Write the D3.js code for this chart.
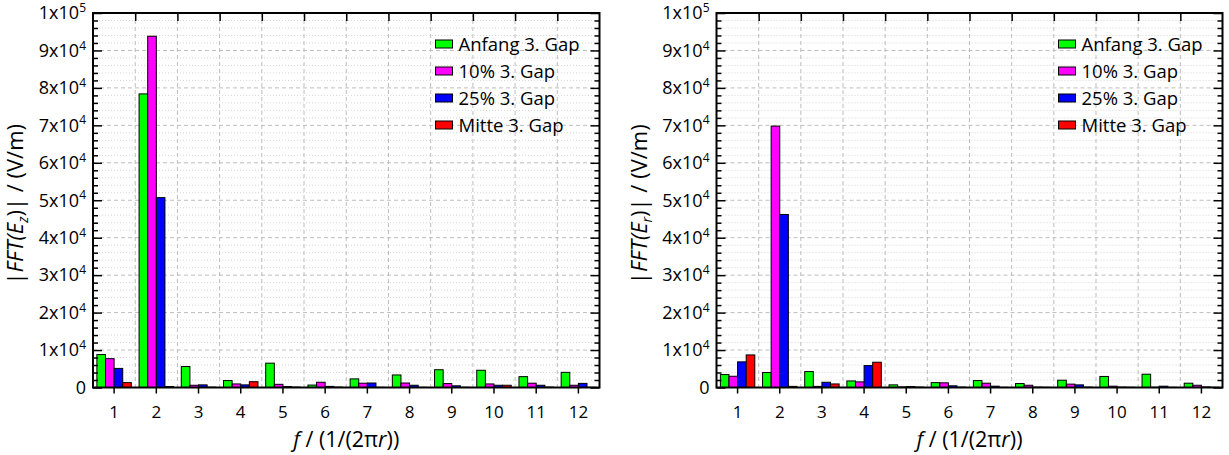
<!DOCTYPE html>
<html>
<head>
<meta charset="utf-8">
<script src="https://cdn.jsdelivr.net/npm/d3@7"></script>
<style>
  body { margin: 0; background: #fff; }
  svg { font-family: "Open Sans", sans-serif; }
</style>
</head>
<body>
<svg width="1229" height="455"></svg>
<script>
// data
var categories = [1, 2, 3, 4, 5, 6, 7, 8, 9, 10, 11, 12];
var seriesNames = ["Anfang 3. Gap", "10% 3. Gap", "25% 3. Gap", "Mitte 3. Gap"];
var colors = ["#00ff00", "#ff00ff", "#0000ff", "#ff0000"];

// |FFT(Ez)|
var ezAnfang = [8800, 78400, 5600, 1850, 6500, 650, 2300, 3350, 4750, 4600, 2900, 4050];
var ez10 = [7700, 93800, 600, 950, 850, 1400, 1150, 1200, 1050, 950, 1150, 600];
var ez25 = [5100, 50700, 700, 700, 250, 300, 1200, 600, 450, 600, 600, 1100];
var ezMitte = [1300, 250, 80, 1550, 100, 100, 50, 50, 50, 600, 100, 50];

// |FFT(Er)|
var erAnfang = [3450, 4000, 4250, 1750, 700, 1300, 1850, 1050, 1950, 2950, 3550, 1150];
var er10 = [3000, 69800, 300, 1500, 150, 1250, 1150, 600, 900, 350, 50, 600];
var er25 = [6850, 46200, 1400, 5850, 250, 450, 350, 100, 700, 100, 350, 150];
var erMitte = [8700, 300, 950, 6750, 100, 100, 50, 50, 100, 50, 50, 50];

var yMajor = [0, 1e4, 2e4, 3e4, 4e4, 5e4, 6e4, 7e4, 8e4, 9e4, 1e5];

var svg = d3.select("svg");
var top_ = 13, bottom = 387.5;

var y = d3.scaleLinear().domain([0, 1e5]).range([bottom, top_]);
var yMinor = d3.range(0, 100001, 2000).filter(function(v) { return v % 10000 !== 0; });

function drawPanel(x0, x1, sets, sub) {
  var g = svg.append("g");
  var x = d3.scaleBand().domain(categories).range([x0, x1]).padding(0);
  var xs = d3.scaleBand().domain(seriesNames).range([0, x.bandwidth()]).paddingOuter(0.45).paddingInner(0);
  var xb = d3.scaleLinear().domain([0, 12]).range([x0, x1]);

  // grid
  g.append("g").selectAll("line").data(yMinor).join("line")
    .attr("x1", x0).attr("x2", x1)
    .attr("y1", function(d) { return y(d); }).attr("y2", function(d) { return y(d); })
    .attr("stroke", "#d6d6d6").attr("stroke-dasharray", "1,2");
  g.append("g").selectAll("line").data(yMajor.slice(1, -1)).join("line")
    .attr("x1", x0).attr("x2", x1)
    .attr("y1", function(d) { return y(d); }).attr("y2", function(d) { return y(d); })
    .attr("stroke", "#bdbdbd").attr("stroke-dasharray", "4,3");
  g.append("g").selectAll("line").data(d3.range(1, 12)).join("line")
    .attr("x1", function(d) { return xb(d); }).attr("x2", function(d) { return xb(d); })
    .attr("y1", top_).attr("y2", bottom)
    .attr("stroke", "#bdbdbd").attr("stroke-dasharray", "4,3");

  // bars
  var rows = [];
  categories.forEach(function(c, i) {
    seriesNames.forEach(function(s, j) {
      rows.push({ c: c, s: s, j: j, v: sets[j][i] });
    });
  });
  g.append("g").selectAll("rect").data(rows).join("rect")
    .attr("x", function(d) { return x(d.c) + xs(d.s); })
    .attr("y", function(d) { return y(d.v); })
    .attr("width", xs.bandwidth())
    .attr("height", function(d) { return bottom - y(d.v); })
    .attr("fill", function(d) { return colors[d.j]; })
    .attr("stroke", "#000").attr("stroke-width", 1);

  // left axis, ticks pointing in
  var yl = g.append("g").attr("transform", "translate(" + x0 + ",0)")
    .call(d3.axisLeft(y).tickValues(yMajor).tickSizeInner(-9).tickSizeOuter(0).tickPadding(7).tickFormat(""));
  yl.select(".domain").remove();
  yl.selectAll(".tick line").attr("stroke-width", 1.5);
  yl.selectAll(".tick text").each(function(d) {
    var t = d3.select(this).attr("font-size", 18).attr("font-family", "Open Sans").attr("fill", "#000");
    if (d === 0) { t.text("0"); return; }
    var e = Math.floor(Math.log10(d) + 1e-9);
    t.text(Math.round(d / Math.pow(10, e)) + "x10");
    t.append("tspan").attr("font-size", 12).attr("dy", "-0.6em").text(e);
  });
  var ylm = g.append("g").attr("transform", "translate(" + x0 + ",0)")
    .call(d3.axisLeft(y).tickValues(yMinor).tickSizeInner(-5).tickSizeOuter(0).tickFormat(""));
  ylm.select(".domain").remove();
  ylm.selectAll(".tick line").attr("stroke-width", 1.5);

  // right axis
  var yr = g.append("g").attr("transform", "translate(" + x1 + ",0)")
    .call(d3.axisRight(y).tickValues(yMajor).tickSizeInner(-9).tickSizeOuter(0).tickFormat(""));
  yr.select(".domain").remove();
  yr.selectAll(".tick line").attr("stroke-width", 1.5);
  var yrm = g.append("g").attr("transform", "translate(" + x1 + ",0)")
    .call(d3.axisRight(y).tickValues(yMinor).tickSizeInner(-5).tickSizeOuter(0).tickFormat(""));
  yrm.select(".domain").remove();
  yrm.selectAll(".tick line").attr("stroke-width", 1.5);

  // bottom axis
  var xa = g.append("g").attr("transform", "translate(0," + bottom + ")")
    .call(d3.axisBottom(x).tickSizeInner(6).tickSizeOuter(0).tickPadding(12.4));
  xa.select(".domain").remove();
  xa.selectAll(".tick line").attr("stroke-width", 1.5);
  xa.selectAll(".tick text").attr("font-size", 17).attr("font-family", "Open Sans").attr("fill", "#000");

  // top axis ticks at category boundaries
  var xt = g.append("g").attr("transform", "translate(0," + top_ + ")")
    .call(d3.axisTop(xb).tickValues(d3.range(1, 12)).tickSizeInner(-8).tickSizeOuter(0).tickFormat(""));
  xt.select(".domain").remove();
  xt.selectAll(".tick line").attr("stroke-width", 1.5);

  // frame
  g.append("rect").attr("x", x0).attr("y", top_)
    .attr("width", x1 - x0).attr("height", bottom - top_)
    .attr("fill", "none").attr("stroke", "#000").attr("stroke-width", 2);

  // legend
  var lg = g.append("g").attr("transform", "translate(" + (x1 - 164) + ",44)");
  seriesNames.forEach(function(s, j) {
    lg.append("rect").attr("x", 0).attr("y", j * 27 - 4).attr("width", 17).attr("height", 8)
      .attr("fill", colors[j]).attr("stroke", "#000").attr("stroke-width", 1);
    lg.append("text").attr("x", 23).attr("y", j * 27 + 6.5).attr("font-size", 18.5).text(s);
  });

  // axis titles
  var yt = g.append("text")
    .attr("transform", "translate(" + (x0 - 70) + "," + ((top_ + bottom) / 2 + 4) + ") rotate(-90)")
    .attr("text-anchor", "middle").attr("font-size", 22);
  yt.append("tspan").text("|");
  yt.append("tspan").attr("font-style", "italic").text("FFT(E");
  yt.append("tspan").attr("font-style", "italic").attr("font-size", 14).attr("dy", 5).text(sub);
  yt.append("tspan").attr("dy", -5).text(")| / (V/m)");

  var xl = g.append("text")
    .attr("x", (x0 + x1) / 2).attr("y", 446.5)
    .attr("text-anchor", "middle").attr("font-size", 21.5);
  xl.append("tspan").attr("font-style", "italic").text("f");
  xl.append("tspan").text(" / (1/(2\u03c0");
  xl.append("tspan").attr("font-style", "italic").text("r");
  xl.append("tspan").text("))");
}

drawPanel(93, 599.5, [ezAnfang, ez10, ez25, ezMitte], "z");
drawPanel(716.5, 1222.5, [erAnfang, er10, er25, erMitte], "r");
</script>
</body>
</html>
